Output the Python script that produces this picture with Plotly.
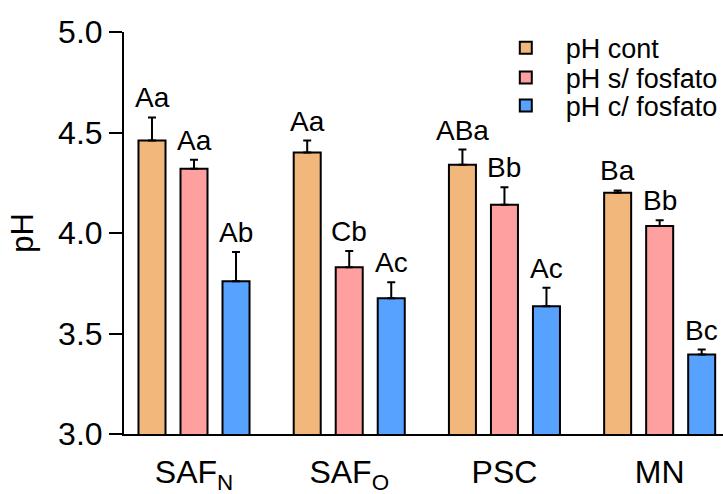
import plotly.graph_objects as go

categories = ["SAF<sub>N</sub>", "SAF<sub>O</sub>", "PSC", "MN"]
series_names = ["pH cont", "pH s/ fosfato", "pH c/ fosfato"]
ph_cont = [4.46, 4.40, 4.34, 4.20]
ph_s_fosfato = [4.32, 3.83, 4.14, 4.035]
ph_c_fosfato = [3.76, 3.675, 3.635, 3.395]
err_cont = [0.115, 0.06, 0.075, 0.012]
err_s_fosfato = [0.045, 0.08, 0.088, 0.028]
err_c_fosfato = [0.145, 0.08, 0.092, 0.025]
labels_cont = ["Aa", "Aa", "ABa", "Ba"]
labels_s_fosfato = ["Aa", "Cb", "Bb", "Bb"]
labels_c_fosfato = ["Ab", "Ac", "Ac", "Bc"]

colors = ["#F2B87B", "#FFA0A0", "#57A2FF"]
values = [ph_cont, ph_s_fosfato, ph_c_fosfato]
errors = [err_cont, err_s_fosfato, err_c_fosfato]
labels = [labels_cont, labels_s_fosfato, labels_c_fosfato]

FONT = "Liberation Sans, Arial, Helvetica, sans-serif"
slot = 0.2706
legend_ids = ["legend", "legend2", "legend3"]
legend_y = [0.960, 0.886, 0.816]

fig = go.Figure()
for name, vals, errs, col, lg in zip(series_names, values, errors, colors, legend_ids):
    fig.add_trace(go.Bar(
        name=name, x=categories, y=vals, legend=lg,
        marker=dict(color=col, line=dict(color="black", width=2)),
        error_y=dict(type="data", array=errs, symmetric=False,
                     arrayminus=[0] * len(errs), color="black",
                     thickness=2, width=4),
    ))

for k, (vals, errs, labs) in enumerate(zip(values, errors, labels)):
    for i, (v, e, t) in enumerate(zip(vals, errs, labs)):
        fig.add_annotation(x=i + (k - 1) * slot, y=v + e, text=t,
                           showarrow=False, yanchor="bottom", yshift=2,
                           font=dict(size=28, color="black", family=FONT))

legend_style = dict(x=0.604, xanchor="left", yanchor="middle",
                    font=dict(size=27, family=FONT, color="black"),
                    bgcolor="rgba(0,0,0,0)", itemwidth=70)

fig.update_layout(
    width=723, height=494,
    margin=dict(l=124, r=0, t=32, b=60, autoexpand=False),
    paper_bgcolor="white", plot_bgcolor="white",
    barmode="group", bargap=0.188, bargroupgap=0.357,
    font=dict(family=FONT, color="black"),
    showlegend=True,
    legend=dict(y=legend_y[0], **legend_style),
    legend2=dict(y=legend_y[1], **legend_style),
    legend3=dict(y=legend_y[2], **legend_style),
)
fig.update_xaxes(
    range=[-0.451, 3.408], showline=True, linecolor="black", linewidth=2,
    ticks="", tickfont=dict(size=32, family=FONT, color="black"),
    showgrid=False, zeroline=False, ticklabelstandoff=9, automargin=False,
)
fig.update_yaxes(
    range=[3, 5], tickvals=[3.0, 3.5, 4.0, 4.5, 5.0], tickformat=".1f",
    showline=True, linecolor="black", linewidth=2,
    ticks="outside", ticklen=13, tickwidth=2, tickcolor="black",
    tickfont=dict(size=32, family=FONT, color="black"),
    showgrid=False, zeroline=False, automargin=False,
    title=dict(text="pH", font=dict(size=31, family=FONT, color="black"), standoff=15),
)

fig.write_html(
    "out.html",
    config={"displayModeBar": False},
    post_script="document.body.style.margin='0';document.body.style.overflow='hidden';",
)
